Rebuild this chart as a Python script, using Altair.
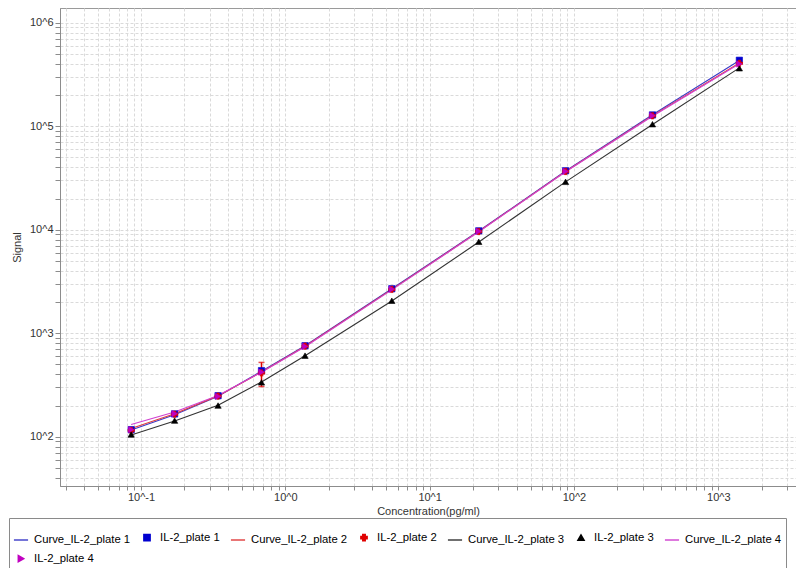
import altair as alt
import pandas as pd

# ---- data ----
conc = [0.0855, 0.171, 0.342, 0.684, 1.37, 5.47, 21.9, 87.5, 350, 1400]

plate1 = [117, 166, 249, 435, 757, 2690, 9750, 37100, 128500, 433600]
plate2 = [115, 165, 247, 413, 750, 2650, 9600, 36500, 126000, 405000]
plate3 = [105, 143, 200, 335, 607, 2060, 7640, 29000, 104500, 363000]
plate4 = [117, 167, 245, 420, 745, 2660, 9650, 36600, 126500, 400000]

curve1 = [116, 163, 246, 430, 757, 2690, 9700, 37000, 129000, 432000]
curve2 = [120, 167, 248, 422, 748, 2650, 9600, 36500, 126500, 408000]
curve3 = [104, 142, 201, 338, 605, 2050, 7600, 29000, 104000, 366000]
curve4 = [131, 173, 250, 420, 740, 2620, 9550, 36300, 125000, 402000]

err_conc = [0.684]
err_lo = [305]
err_hi = [522]

series_names = ["Curve_IL-2_plate 1", "IL-2_plate 1",
                "Curve_IL-2_plate 2", "IL-2_plate 2",
                "Curve_IL-2_plate 3", "IL-2_plate 3",
                "Curve_IL-2_plate 4", "IL-2_plate 4"]
series_colors = ["#3a3ac8", "#0000d0", "#e03c3c", "#e00000",
                 "#333333", "#000000", "#d040d0", "#c000c0"]
series_shapes = ["stroke", "square", "stroke", "cross",
                 "stroke", "triangle-up", "stroke", "triangle-right"]
series_sizes = [200, 40, 200, 40, 200, 40, 200, 40]

x_dom = [0.02747, 3456]
x_ticks = [m * 10.0 ** e for e in range(-2, 4) for m in range(1, 10)]
x_ticks = [v for v in x_ticks if x_dom[0] <= v <= x_dom[1]]
y_dom = [33.4, 1.387e6]
y_ticks = [m * 10.0 ** e for e in range(1, 7) for m in range(1, 10)]
y_ticks = [v for v in y_ticks if y_dom[0] <= v <= y_dom[1]]

# ---- tables ----
curve_rows = []
for name, vals in zip(series_names[0::2], [curve1, curve2, curve3, curve4]):
    for c, v in zip(conc, vals):
        curve_rows.append({"conc": c, "signal": v, "series": name})
curves_df = pd.DataFrame(curve_rows)

point_rows = []
for i, (name, vals) in enumerate(zip(series_names[1::2], [plate1, plate2, plate3, plate4])):
    for c, v in zip(conc, vals):
        point_rows.append({"conc": c, "signal": v, "series": name, "ord": i})
points_df = pd.DataFrame(point_rows)

err_df = pd.DataFrame({"conc": err_conc, "lo": err_lo, "hi": err_hi})

label_expr = ("abs(log(datum.value)/LN10 - round(log(datum.value)/LN10)) < 1e-6 ? "
              "'10^' + round(log(datum.value)/LN10) : ''")

x_enc = alt.X("conc:Q",
              scale=alt.Scale(type="log", domain=x_dom, nice=False),
              axis=alt.Axis(values=x_ticks, labelExpr=label_expr,
                            title="Concentration(pg/ml)", tickSize=4,
                            labelPadding=1, titlePadding=3))
y_enc = alt.Y("signal:Q",
              scale=alt.Scale(type="log", domain=y_dom, nice=False),
              axis=alt.Axis(values=y_ticks, labelExpr=label_expr,
                            title="Signal", tickSize=5, labelPadding=2,
                            titlePadding=7))

legend = alt.Legend(title=" ", orient="none", legendX=-51, legendY=510,
                    direction="horizontal", columns=7, gridAlign="none",
                    labelFont="Liberation Sans", labelFontSize=11.3,
                    labelColor="#000000", labelLimit=400, labelOffset=5,
                    columnPadding=8, rowPadding=6, padding=4,
                    titleFontSize=8, titlePadding=2,
                    strokeColor="#8a8a8a", fillColor="#ffffff",
                    symbolStrokeWidth=1.4)

stroke_scale = alt.Scale(domain=series_names, range=series_colors)
shape_scale = alt.Scale(domain=series_names, range=series_shapes)
size_scale = alt.Scale(type="ordinal", domain=series_names, range=series_sizes)

lines = alt.Chart(curves_df).mark_line(strokeWidth=1.1).encode(
    x=x_enc, y=y_enc,
    stroke=alt.Stroke("series:N", scale=stroke_scale, legend=legend),
)

err_rule = alt.Chart(err_df).mark_rule(color="#e00000", strokeWidth=1.5).encode(
    x="conc:Q", y="lo:Q", y2="hi:Q")
err_top = alt.Chart(err_df).mark_tick(color="#e00000", orient="horizontal",
                                      size=6, thickness=1.5).encode(x="conc:Q", y="hi:Q")
err_bot = alt.Chart(err_df).mark_tick(color="#e00000", orient="horizontal",
                                      size=6, thickness=1.5).encode(x="conc:Q", y="lo:Q")

points = alt.Chart(points_df).mark_point(filled=True, opacity=1, strokeWidth=0.6).encode(
    x=x_enc, y=y_enc,
    fill=alt.Fill("series:N", scale=stroke_scale, legend=legend),
    stroke=alt.Stroke("series:N", scale=stroke_scale, legend=legend),
    shape=alt.Shape("series:N", scale=shape_scale, legend=legend),
    size=alt.Size("series:N", scale=size_scale, legend=legend),
    order=alt.Order("ord:Q"),
)

chart = alt.layer(lines, err_rule, err_top, err_bot, points).properties(
    width=736, height=478,
    padding={"left": 52, "top": 0, "right": 0, "bottom": 82},
    autosize=alt.AutoSizeParams(type="none"),
).configure_view(
    stroke="#9a9a9a", strokeWidth=1
).configure_axis(
    gridColor="#dadada", gridDash=[3, 2], gridWidth=1,
    domainColor="#8c8c8c", tickColor="#8c8c8c",
    labelFont="Liberation Sans", labelFontSize=11, labelColor="#333333",
    titleFont="Liberation Sans", titleFontSize=11, titleFontWeight="normal",
    titleColor="#333333",
)

chart.save("out.html", embed_options={"renderer": "svg", "actions": False})
